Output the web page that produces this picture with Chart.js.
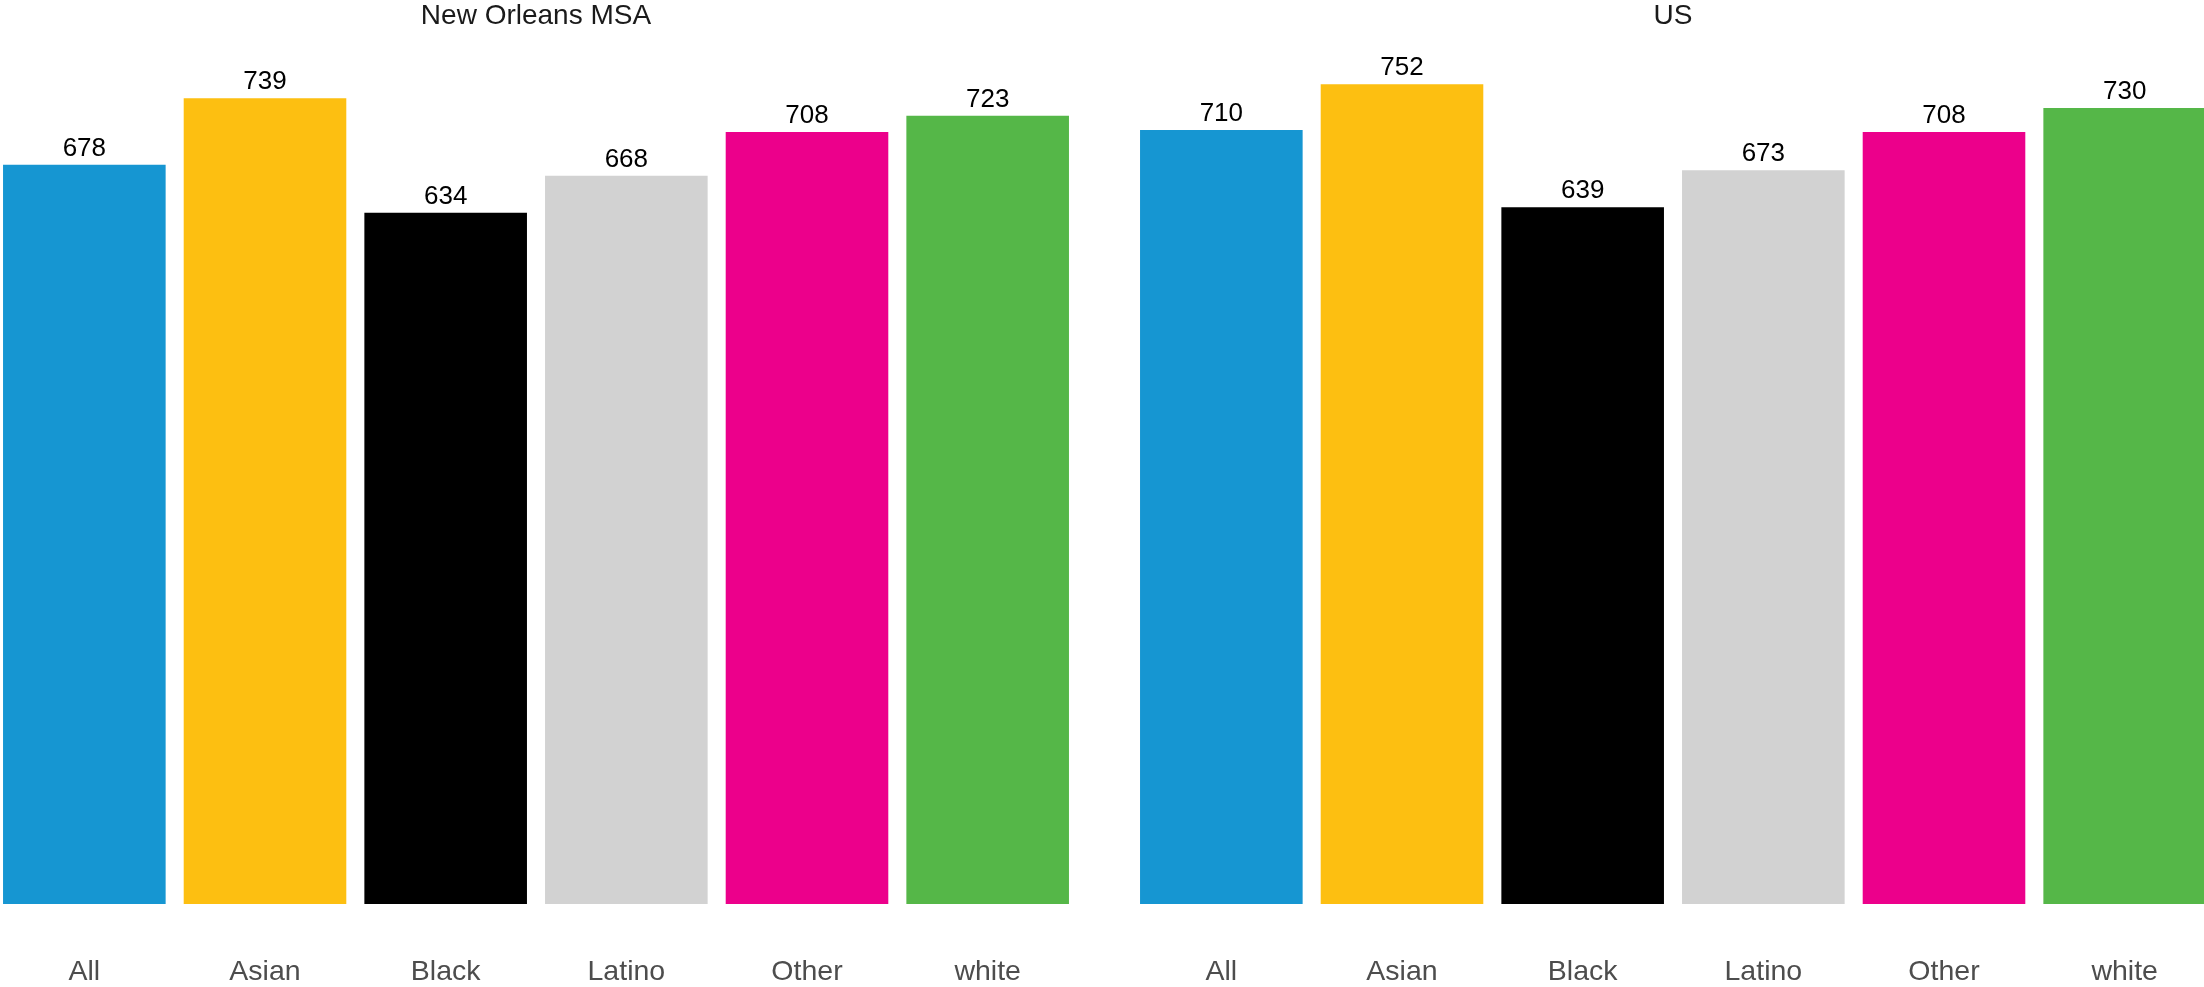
<!DOCTYPE html>
<html>
<head>
<meta charset="utf-8">
<script src="https://cdn.jsdelivr.net/npm/chart.js@4"></script>
<style>
  html, body { margin: 0; padding: 0; background: #fff; }
  body { width: 2204px; height: 987px; overflow: hidden; position: relative; }
  .panel { position: absolute; top: 0; width: 1084px; height: 987px; }
</style>
</head>
<body>
<div class="panel" style="left:-6px"><canvas id="nolaChart" width="1084" height="987"></canvas></div>
<div class="panel" style="left:1131px"><canvas id="usChart" width="1084" height="987"></canvas></div>
<script>
// categorias y valores
const categories = ['All', 'Asian', 'Black', 'Latino', 'Other', 'white'];
const nolaValues = [678, 739, 634, 668, 708, 723];
const usValues = [710, 752, 639, 673, 708, 730];
const barColors = ['#1696d2', '#fdbf11', '#000000', '#d2d2d2', '#ec008b', '#55b748'];

const FONT = '"Liberation Sans", Arial, sans-serif';

// etiqueta encima de cada barra
const valueLabels = {
    id: 'valueLabels',
    afterDatasetsDraw(chart) {
        const ctx = chart.ctx;
        const meta = chart.getDatasetMeta(0);
        const data = chart.data.datasets[0].data;
        ctx.save();
        ctx.font = '26px ' + FONT;
        ctx.fillStyle = '#000000';
        ctx.textAlign = 'center';
        ctx.textBaseline = 'alphabetic';
        meta.data.forEach((bar, i) => {
            ctx.fillText(String(data[i]), bar.x, bar.y - 9);
        });
        ctx.restore();
    }
};

function renderChart(id, title, values) {
    const ctx = document.getElementById(id).getContext('2d');
    return new Chart(ctx, {
        type: 'bar',
        data: {
            labels: categories,
            datasets: [{
                data: values,
                backgroundColor: barColors,
                borderWidth: 0,
                barPercentage: 0.9,
                categoryPercentage: 1.0
            }]
        },
        options: {
            responsive: false,
            animation: false,
            layout: { padding: 0 },
            plugins: {
                legend: { display: false },
                tooltip: { enabled: false },
                title: {
                    display: true,
                    text: title,
                    color: '#1a1a1a',
                    font: { family: FONT, size: 28, weight: 'normal', lineHeight: 1.1 },
                    padding: { top: 1, bottom: 0 }
                }
            },
            scales: {
                x: {
                    grid: { display: false, drawTicks: false },
                    border: { display: false },
                    ticks: {
                        color: '#4d4d4d',
                        font: { family: FONT, size: 28.5 },
                        padding: 51
                    },
                    // alto fijo del eje para que la base quede en y=904
                    afterFit: (scale) => { scale.height = 83; }
                },
                y: {
                    display: false,
                    min: 0,
                    max: 800
                }
            }
        },
        plugins: [valueLabels]
    });
}

renderChart('nolaChart', 'New Orleans MSA', nolaValues);
renderChart('usChart', 'US', usValues);
</script>
</body>
</html>
